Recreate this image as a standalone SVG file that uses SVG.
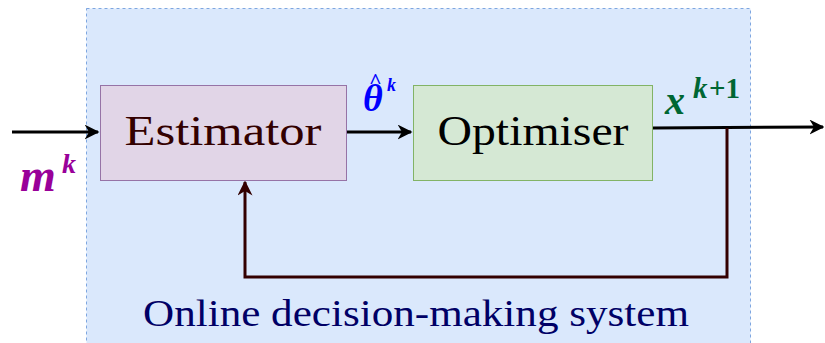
<svg xmlns="http://www.w3.org/2000/svg" width="825" height="343" viewBox="0 0 825 343">
<style>
.lbl{font-family:"Liberation Serif","Times New Roman",serif;}
.math{font-family:"Liberation Serif","Times New Roman",serif;font-style:italic;font-weight:bold;}
</style>
<defs>
<marker id="ah" viewBox="0 0 10 10" refX="9" refY="5" markerWidth="5" markerHeight="5" markerUnits="strokeWidth" orient="auto"><path d="M0,0 L10,5 L0,10 L3,5 z" fill="#000"/></marker>
<marker id="ahr" viewBox="0 0 10 10" refX="9" refY="5" markerWidth="5" markerHeight="5" markerUnits="strokeWidth" orient="auto"><path d="M0,0 L10,5 L0,10 L3,5 z" fill="#330000"/></marker>
</defs>
<rect width="825" height="343" fill="#fff"/>
<g id="system">
<rect x="86.5" y="8.5" width="664" height="345" fill="#dae8fc" stroke="#7ea6e0" stroke-dasharray="3 3"/>
<text class="lbl" x="416" y="326" font-size="38" fill="#000066" text-anchor="middle" textLength="546" lengthAdjust="spacingAndGlyphs">Online decision-making system</text>
</g>
<g id="estimator">
<rect x="100.5" y="85.5" width="246" height="95" fill="#e1d5e7" stroke="#9673a6"/>
<text class="lbl" x="223" y="145" font-size="42" fill="#330000" text-anchor="middle" textLength="197" lengthAdjust="spacingAndGlyphs">Estimator</text>
</g>
<g id="optimiser">
<rect x="413.5" y="85.5" width="239" height="95" fill="#d5e8d4" stroke="#82b366"/>
<text class="lbl" x="533" y="145" font-size="42" fill="#000" text-anchor="middle" textLength="191" lengthAdjust="spacingAndGlyphs">Optimiser</text>
</g>
<g id="connectors" fill="none" stroke-width="3">
<line x1="12" y1="132" x2="98" y2="132" stroke="#000" marker-end="url(#ah)"/>
<line x1="347" y1="132" x2="411" y2="132" stroke="#000" marker-end="url(#ah)"/>
<line x1="653" y1="128" x2="823" y2="127" stroke="#000" marker-end="url(#ah)"/>
<polyline points="727,128 727,277 245,277 245,182" stroke="#330000" marker-end="url(#ahr)"/>
</g>
<g id="labels">
<text class="math" x="20" y="191" font-size="46" fill="#990099">m</text>
<text class="math" x="62" y="173" font-size="28" fill="#990099">k</text>
<text class="math" x="363" y="111" font-size="38" fill="#0000ff">θ<tspan x="369" y="88" font-size="22" font-style="normal">^</tspan><tspan x="387" y="91" font-size="18">k</tspan></text>
<text class="math" x="665" y="114" font-size="40" fill="#006633">x</text>
<text class="math" x="693" y="98" font-size="29" fill="#006633">k</text>
<text class="lbl" x="709" y="98" font-size="29" font-weight="bold" fill="#006633">+1</text>
</g>
</svg>
